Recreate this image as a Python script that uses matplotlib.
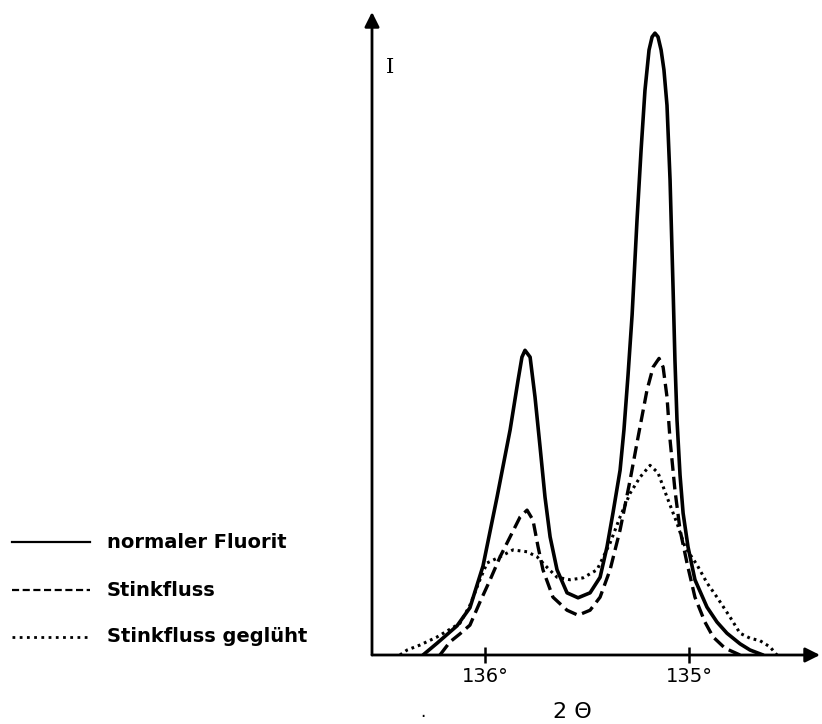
import matplotlib
matplotlib.use("Agg")
import matplotlib.pyplot as plt
from matplotlib.lines import Line2D

# ── Data (2θ in degrees, intensity in relative units) ─────────────────────────
normal_2theta = [136.304, 136.235, 136.137, 136.074, 136.010, 135.941, 135.877,
                 135.838, 135.819, 135.804, 135.779, 135.755, 135.730, 135.706,
                 135.681, 135.647, 135.598, 135.544, 135.485, 135.436, 135.402,
                 135.373, 135.338, 135.319, 135.299, 135.279, 135.255, 135.235,
                 135.216, 135.196, 135.181, 135.167, 135.152, 135.137, 135.123,
                 135.108, 135.093, 135.078, 135.069, 135.059, 135.044, 135.029,
                 135.005, 134.971, 134.912, 134.863, 134.814, 134.750, 134.701,
                 134.637]
normal_I = [0.0, 1.9, 4.7, 7.6, 14.3, 25.4, 36.2,
            44.2, 47.9, 49.0, 47.9, 41.5, 33.4, 25.4,
            19.0, 13.7, 10.0, 9.2, 10.0, 12.5, 17.4,
            22.8, 29.7, 36.2, 45.0, 54.7, 69.9, 81.2,
            90.8, 97.3, 99.4, 100.0, 99.4, 97.3, 94.1,
            88.4, 76.4, 58.7, 47.4, 37.8, 28.9, 22.8,
            17.4, 12.1, 7.7, 5.3, 3.5, 1.8, 0.8,
            0.0]

stink_2theta = [136.221, 136.172, 136.123, 136.074, 136.025, 135.975, 135.926,
                135.877, 135.828, 135.794, 135.765, 135.740, 135.716, 135.667,
                135.598, 135.544, 135.485, 135.436, 135.387, 135.338, 135.289,
                135.250, 135.206, 135.176, 135.147, 135.127, 135.108, 135.093,
                135.069, 135.044, 135.010, 134.971, 134.922, 134.882, 134.824,
                134.750]
stink_I = [0.0, 2.1, 3.4, 4.8, 8.5, 12.1, 15.8,
           19.0, 22.2, 23.3, 21.7, 17.4, 13.7, 9.3,
           7.2, 6.4, 7.2, 9.3, 13.7, 20.1, 28.1,
           35.0, 42.6, 46.3, 47.7, 46.3, 41.5, 34.6,
           26.5, 20.1, 14.8, 9.3, 5.3, 2.9, 1.1,
           0.0]

gegl_2theta = [136.417, 136.382, 136.319, 136.235, 136.123, 136.074, 136.025,
               135.990, 135.926, 135.863, 135.794, 135.745, 135.696, 135.647,
               135.583, 135.520, 135.451, 135.387, 135.338, 135.289, 135.240,
               135.191, 135.152, 135.108, 135.059, 135.020, 134.961, 134.912,
               134.863, 134.799, 134.750, 134.701, 134.652, 134.603, 134.569]
gegl_I = [0.0, 0.8, 1.6, 2.9, 5.1, 8.0, 12.1,
          14.8, 15.8, 16.9, 16.6, 15.8, 14.1, 12.5,
          12.1, 12.4, 13.7, 18.0, 22.2, 26.0, 28.6,
          30.5, 29.3, 25.4, 21.2, 17.4, 14.5, 11.6,
          9.3, 6.1, 3.5, 2.7, 2.3, 1.3, 0.0]

tick_pos = [136, 135]
tick_labels = ["136°", "135°"]
legend_labels = ["normaler Fluorit", "Stinkfluss", "Stinkfluss geglüht"]

# ── Canvas ────────────────────────────────────────────────────────────────────
W, H = 822, 724
fig = plt.figure(figsize=(W / 100, H / 100), dpi=100)
fig.patch.set_facecolor("white")
ax = fig.add_axes([372 / W, 1 - 655 / H, 448 / W, 643 / H])
ax.set_xlim(136.554, 134.358)
ax.set_ylim(0, 103.4)

C = "black"
DASH = (0, (3.8, 1.8))
DOT = (0, (0.9, 1.3))

ax.plot(normal_2theta, normal_I, color=C, lw=2.6, solid_capstyle="round",
        solid_joinstyle="round")
ax.plot(stink_2theta, stink_I, color=C, lw=2.4, linestyle=DASH,
        dash_joinstyle="round")
ax.plot(gegl_2theta, gegl_I, color=C, lw=2.2, linestyle=DOT)

# ── Axes with arrows ─────────────────────────────────────────────────────────
for s in ax.spines.values():
    s.set_visible(False)
ax.annotate("", xy=(0, 1.0), xytext=(0, 0), xycoords="axes fraction",
            arrowprops=dict(arrowstyle="-|>", color=C, lw=2.0,
                            mutation_scale=22, shrinkA=0, shrinkB=0))
ax.annotate("", xy=(1.0, 0), xytext=(0, 0), xycoords="axes fraction",
            arrowprops=dict(arrowstyle="-|>", color=C, lw=2.0,
                            mutation_scale=22, shrinkA=0, shrinkB=0))
ax.set_yticks([])
ax.set_xticks(tick_pos)
ax.set_xticklabels(tick_labels, fontsize=14, fontfamily="DejaVu Sans")
ax.tick_params(axis="x", direction="inout", length=11, width=1.8, pad=3)

ax.text(0.04, 0.913, "I", transform=ax.transAxes, fontsize=15,
        fontfamily="DejaVu Serif", ha="center", va="center")
fig.text(572 / W, 1 - 712 / H, "2 Θ", fontsize=16, ha="center", va="center")
fig.text(423 / W, 1 - 712 / H, ".", fontsize=12, ha="center", va="center")

# ── Legend (drawn by hand at left) ───────────────────────────────────────────
styles = [dict(linestyle="-", lw=1.6),
          dict(linestyle=(0, (3.2, 1.6)), lw=1.6),
          dict(linestyle=(0, (1.0, 1.6)), lw=2.0)]
rows_y = [542, 590, 637]
for lbl, st, y in zip(legend_labels, styles, rows_y):
    fy = 1 - y / H
    fig.add_artist(Line2D([12 / W, 90 / W], [fy, fy], color=C, **st))
    fig.text(107 / W, fy, lbl, fontsize=14, fontweight="bold",
             ha="left", va="center")

fig.savefig("out.png", dpi=100, facecolor="white")
plt.close(fig)
